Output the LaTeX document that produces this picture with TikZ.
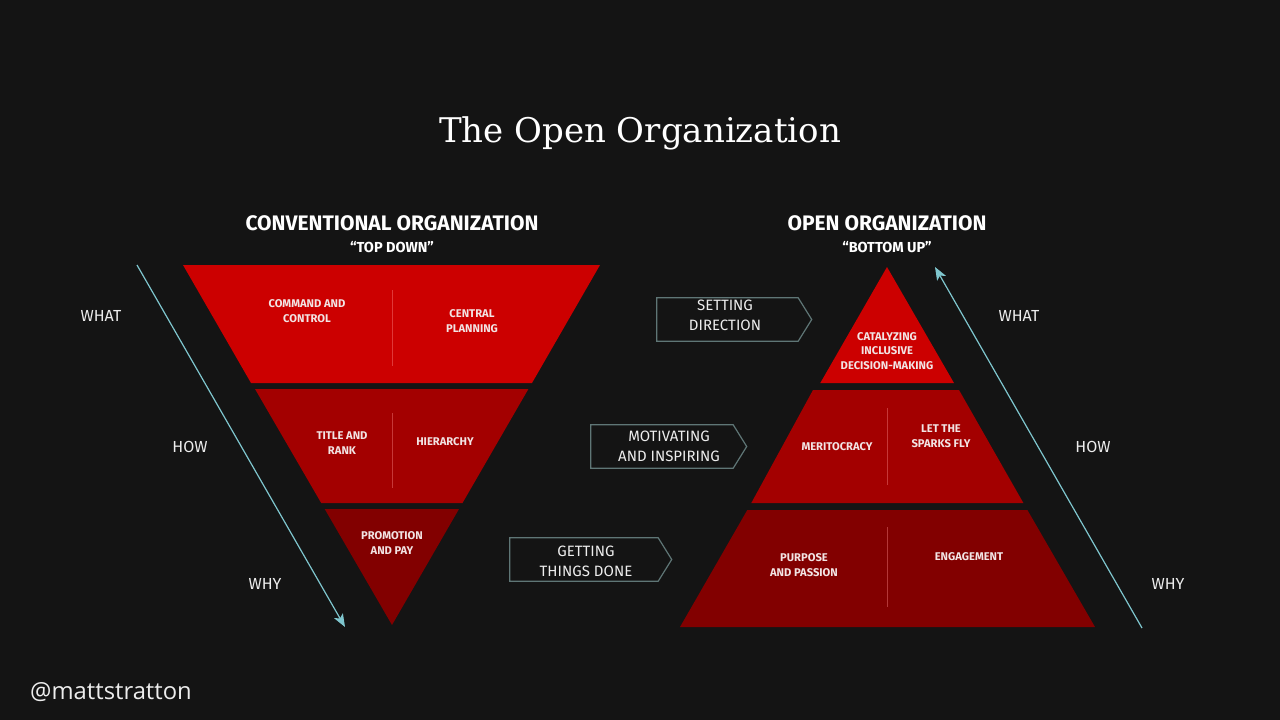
\documentclass[tikz,border=0pt]{standalone}
\usepackage{fontspec}
\setmainfont{Fira Sans}
\newfontfamily\titlefont{DejaVu Serif}
\newfontfamily\handlefont{Open Sans}
\usetikzlibrary{arrows.meta,calc}
\definecolor{bg}{HTML}{141414}
\definecolor{redA}{HTML}{CC0000}
\definecolor{redB}{HTML}{A30000}
\definecolor{redC}{HTML}{820000}
\definecolor{flow}{HTML}{7FC6CE}
\definecolor{boxline}{HTML}{5F7676}
\definecolor{txt}{HTML}{EDEDED}
\definecolor{bandtxt}{HTML}{F2E4E4}
\tikzset{
  bandtext/.style={text=bandtxt,font=\fontsize{11.2}{14.5}\selectfont\bfseries,align=center,inner sep=0pt},
  sidelabel/.style={text=txt,font=\fontsize{16}{18}\selectfont,inner sep=0pt},
  headline/.style={text=white,font=\fontsize{21}{24}\selectfont\bfseries,inner sep=0pt},
  subline/.style={text=white,font=\fontsize{14.5}{16}\selectfont\bfseries,inner sep=0pt},
  stagebox/.style={minimum height=43pt,inner sep=0pt},
  stagetext/.style={text=txt,font=\fontsize{15}{20}\selectfont,align=center,inner sep=0pt},
  divider/.style={draw=red!45!white,opacity=0.4,line width=0.8pt},
  flowarrow/.style={draw=flow,line width=1.2pt,-{Stealth[length=13pt,width=10pt,inset=3pt]}}
}
\newcommand{\stageshape}[1]{\draw[boxline,line width=1.2pt] (#1.north west) -- (#1.north east) -- ($(#1.east)+(13.5,0)$) -- (#1.south east) -- (#1.south west) -- cycle;}

\begin{document}
\begin{tikzpicture}[x=1pt,y=-1pt]
\fill[bg] (0,0) rectangle (1280,720);
\useasboundingbox (0,0) rectangle (1280,720);

% title and headings
\node[text=white,font=\titlefont\fontsize{34}{40}\selectfont] (title) at (640,133) {The Open Organization};
\node[headline] (convhead) at (392,223) {CONVENTIONAL ORGANIZATION};
\node[subline] (convsub) at (392,247) {“TOP DOWN”};
\node[headline] (openhead) at (887,223) {OPEN ORGANIZATION};
\node[subline] (opensub) at (887,247) {“BOTTOM UP”};

% conventional: inverted pyramid
\fill[redA] (183,265) -- (600,265) -- (532,383) -- (251,383) -- cycle;
\fill[redB] (255,389) -- (528.4,389) -- (462.5,503) -- (321.2,503) -- cycle;
\fill[redC] (324.7,509) -- (459,509) -- (392,625) -- cycle;
\draw[divider] (392,290) -- (392,366);
\draw[divider] (392,413) -- (392,488);
\node[bandtext] (command) at (307,311) {COMMAND AND\\CONTROL};
\node[bandtext] (central) at (472,321) {CENTRAL\\PLANNING};
\node[bandtext] (rank) at (342,443) {TITLE AND\\RANK};
\node[bandtext] (hierarchy) at (445,442) {HIERARCHY};
\node[bandtext] (promotion) at (392,543) {PROMOTION\\AND PAY};

% open: pyramid
\fill[redA] (887,267) -- (954,383) -- (820.3,383) -- cycle;
\fill[redB] (813,390) -- (959,390) -- (1023.4,503) -- (751.3,503) -- cycle;
\fill[redC] (747.3,510) -- (1027.4,510) -- (1095,627) -- (680,627) -- cycle;
\draw[divider] (887,408) -- (887,485);
\draw[divider] (887,527) -- (887,607);
\node[bandtext] (catalyzing) at (887,351) {CATALYZING\\INCLUSIVE\\DECISION-MAKING};
\node[bandtext] (meritocracy) at (837,447) {MERITOCRACY};
\node[bandtext] (sparks) at (941,436) {LET THE\\SPARKS FLY};
\node[bandtext] (purpose) at (804,565) {PURPOSE\\AND PASSION};
\node[bandtext] (engagement) at (969,557) {ENGAGEMENT};

% what / how / why
\coordinate (convtop) at (137,265);
\coordinate (convbot) at (345,627);
\coordinate (openbot) at (1142,628);
\coordinate (opentop) at (935,267);
\draw[flowarrow] (convtop) -- (convbot);
\draw[flowarrow] (openbot) -- (opentop);
\node[sidelabel] (lwhat) at (101,316) {WHAT};
\node[sidelabel] (lhow) at (190,447) {HOW};
\node[sidelabel] (lwhy) at (265,584) {WHY};
\node[sidelabel] (rwhat) at (1019,316) {WHAT};
\node[sidelabel] (rhow) at (1093,447) {HOW};
\node[sidelabel] (rwhy) at (1168,584) {WHY};

% stages
\node[stagebox,minimum width=141pt] (setdir) at (727.5,319.5) {};
\node[stagebox,minimum width=142pt] (motiv) at (662,446.5) {};
\node[stagebox,minimum width=148pt] (getdone) at (584,559.5) {};
\stageshape{setdir}
\stageshape{motiv}
\stageshape{getdone}
\node[stagetext] (setdirtext) at (725,315.5) {SETTING\\DIRECTION};
\node[stagetext] (motivtext) at (669,446.5) {MOTIVATING\\AND INSPIRING};
\node[stagetext] (getdonetext) at (586,561) {GETTING\\THINGS DONE};

\node[anchor=west,text=txt,font=\handlefont\fontsize{23.8}{26}\selectfont,inner sep=0pt] (handle) at (30,692) {@mattstratton};
\end{tikzpicture}
\end{document}
